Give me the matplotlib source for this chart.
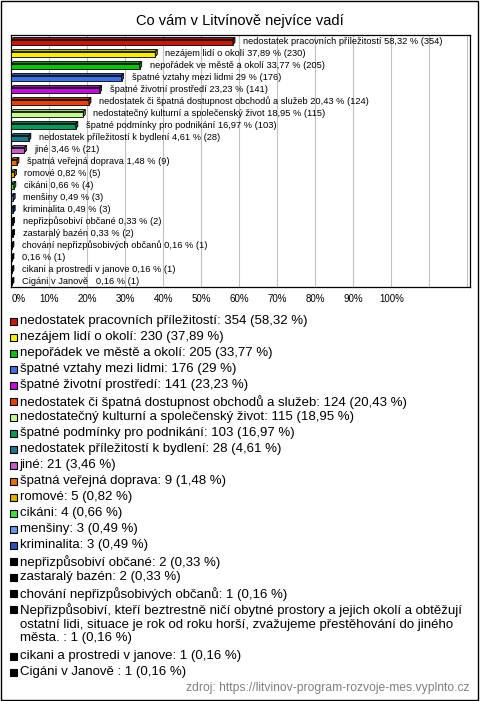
import textwrap
import matplotlib
matplotlib.use("Agg")
import matplotlib.pyplot as plt
from matplotlib.patches import Polygon, Rectangle
import numpy as np

plt.rcParams['font.family'] = ['Liberation Sans', 'DejaVu Sans']

# data
names = [
    "nedostatek pracovních příležitostí",
    "nezájem lidí o okolí",
    "nepořádek ve městě a okolí",
    "špatné vztahy mezi lidmi",
    "špatné životní prostředí",
    "nedostatek či špatná dostupnost obchodů a služeb",
    "nedostatečný kulturní a společenský život",
    "špatné podmínky pro podnikání",
    "nedostatek příležitostí k bydlení",
    "jiné",
    "špatná veřejná doprava",
    "romové",
    "cikáni",
    "menšiny",
    "kriminalita",
    "nepřizpůsobiví občané",
    "zastaralý bazén",
    "chování nepřizpůsobivých občanů",
    "Nepřizpůsobiví, kteří beztrestně ničí obytné prostory a jejich okolí a obtěžují "
    "ostatní lidi, situace je rok od roku horší, zvažujeme přestěhování do jiného města. ",
    "cikani a prostredi v janove",
    "Cigáni v Janově ",
]
counts = [354, 230, 205, 176, 141, 124, 115, 103, 28, 21, 9, 5, 4, 3, 3, 2, 2, 1, 1, 1, 1]
percents = [58.32, 37.89, 33.77, 29.00, 23.23, 20.43, 18.95, 16.97, 4.61, 3.46, 1.48,
            0.82, 0.66, 0.49, 0.49, 0.33, 0.33, 0.16, 0.16, 0.16, 0.16]
colors = ["#c41a0c", "#f8ec10", "#10c010", "#3f6fe0", "#c010d8", "#e8400c", "#c8f890",
          "#109858", "#1e7888", "#c060c8", "#e07010", "#e0b000", "#40e040", "#6c94e4",
          "#2c50b8", "#000000", "#000000", "#000000", "#000000", "#000000", "#000000"]
ticks = list(range(0, 130, 10))
tick_labels = [f"{t}%" if t <= 100 else "" for t in ticks]
title = "Co vám v Litvínově nejvíce vadí"
source = "zdroj: https://litvinov-program-rozvoje-mes.vyplnto.cz"

W, H = 480, 701
fig = plt.figure(figsize=(W / 100, H / 100), dpi=100)


def fx(x):
    return x / W


def fy(y):
    return 1 - y / H


def fmt(p):
    s = f"{p:.2f}".replace(".", ",")
    if s.endswith(",00"):
        s = s[:-3]
    return s


# outer frame
fig.patches.append(Rectangle((fx(1), fy(700)), fx(477), 699 / H, transform=fig.transFigure,
                             fill=False, edgecolor="black", linewidth=1.0))

fig.text(0.5, fy(21), title, ha="center", va="center", fontsize=10.5)

# plot area
ax_l, ax_r, ax_t, ax_b = 11.3, 470, 35, 287
ax = fig.add_axes([fx(ax_l), fy(ax_b), fx(ax_r - ax_l), (ax_b - ax_t) / H])
xmax = 120.7
n = len(names)
ax.set_xlim(0, xmax)
ax.set_ylim(n - 0.5, -0.5)
ppx = (ax_r - ax_l) / xmax   # pixels per percent
ppy = (ax_b - ax_t) / n      # pixels per row

ax.set_xticks(ticks)
ax.set_xticklabels(tick_labels, fontsize=7)
ax.tick_params(axis="x", length=0, pad=5)
ax.get_xticklabels()[0].set_ha("left")
ax.set_yticks([])
ax.grid(axis="x", color="#c0c0c0", linewidth=0.8)
ax.set_axisbelow(True)
for s in ax.spines.values():
    s.set_linewidth(0.9)

ypos = np.arange(n)
bh = 5 / ppy
off = 1 / ppy
dx, dy = 2 / ppx, 2 / ppy
ax.barh(ypos + off, percents, height=bh, color=colors, edgecolor="black", linewidth=0.6, zorder=3)


def shade(c, f):
    rgb = np.array(matplotlib.colors.to_rgb(c))
    return tuple(rgb * f)


# 3d look: top and right faces
for y, v, c in zip(ypos, percents, colors):
    yt = y + off - bh / 2
    yb = y + off + bh / 2
    top = Polygon([(0, yt), (v, yt), (v + dx, yt - dy), (dx, yt - dy)], closed=True,
                  facecolor=shade(c, 0.8), edgecolor="black", linewidth=0.6, zorder=3)
    side = Polygon([(v, yt), (v, yb), (v + dx, yb - dy), (v + dx, yt - dy)], closed=True,
                   facecolor=shade(c, 0.6), edgecolor="black", linewidth=0.6, zorder=3)
    ax.add_patch(top)
    ax.add_patch(side)

for y, v, name, cnt in zip(ypos, percents, names, counts):
    lab = name.strip() if len(name) < 60 else ""
    if name.endswith(" ") and len(name) < 60:
        lab = name + " "
    txt = f"{lab} {fmt(v)} % ({cnt})".strip()
    ax.text(v + 10 / ppx, y, txt, va="center", ha="left", fontsize=6.7, zorder=4)

# legend
ly = 321.7
step = 16.0
line_h = 15.5
for name, cnt, p, c in zip(names, counts, percents, colors):
    label = f"{name}: {cnt} ({fmt(p)} %)"
    lines = textwrap.wrap(label, width=80) if len(label) > 80 else [label]
    fig.patches.append(Rectangle((fx(9.5), fy(ly + 3.5)), fx(7), 7 / H, transform=fig.transFigure,
                                 facecolor=c, edgecolor="black", linewidth=0.8))
    fig.text(fx(19.5), fy(ly - 6.5), "\n".join(lines), ha="left", va="top", fontsize=9.5,
             linespacing=1.17, transform=fig.transFigure)
    ly += step + line_h * (len(lines) - 1)

fig.text(fx(470), fy(688), source, ha="right", va="center", fontsize=8.7, color="#808080")

fig.savefig("out.png", dpi=100)
